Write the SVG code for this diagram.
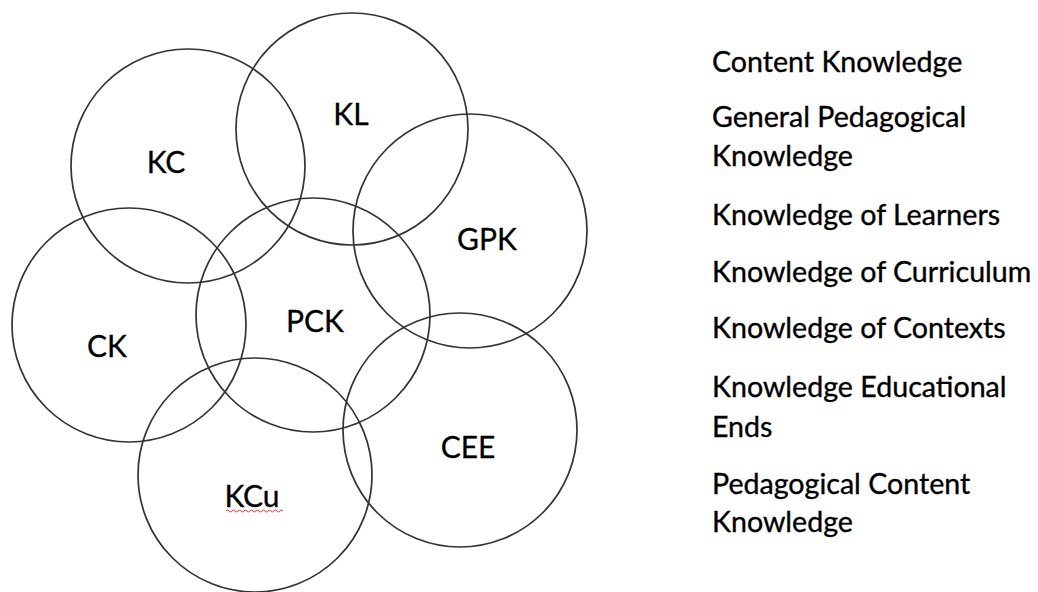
<svg xmlns="http://www.w3.org/2000/svg" width="1038" height="592" viewBox="0 0 1038 592">
  <style>
    .c { fill: none; stroke: #333; stroke-width: 1.7; }
    .lbl { font-family: Lato, "Open Sans", sans-serif; font-size: 30px; fill: #000; stroke: #000; stroke-width: 0.3; text-anchor: middle; }
    .leg { font-family: Lato, "Open Sans", sans-serif; font-size: 28.6px; fill: #000; stroke: #000; stroke-width: 0.35; }
  </style>
  <rect width="1038" height="592" fill="#fff"/>
  <g id="KC"><circle class="c" cx="188" cy="166" r="117"/><text class="lbl" x="166" y="173">KC</text></g>
  <g id="KL"><circle class="c" cx="352" cy="129" r="116"/><text class="lbl" x="351" y="125">KL</text></g>
  <g id="GPK"><circle class="c" cx="470" cy="231" r="117"/><text class="lbl" x="487" y="250">GPK</text></g>
  <g id="CK"><circle class="c" cx="129" cy="325" r="117"/><text class="lbl" x="107" y="357">CK</text></g>
  <g id="PCK"><circle class="c" cx="313" cy="315" r="117"/><text class="lbl" x="315" y="332">PCK</text></g>
  <g id="CEE"><circle class="c" cx="460" cy="430" r="117"/><text class="lbl" x="468" y="458">CEE</text></g>
  <g id="KCu"><circle class="c" cx="255" cy="475" r="117"/><text class="lbl" x="252" y="507">KCu</text>
    <path d="M226 511 q1.5 -2 3 0 t3 0 t3 0 t3 0 t3 0 t3 0 t3 0 t3 0 t3 0 t3 0 t3 0 t3 0 t3 0 t3 0 t3 0 t3 0 t3 0 t3 0 t3 0" fill="none" stroke="#e33" stroke-width="1"/>
  </g>
  <g id="connectors"></g>
  <g id="legend">
    <text class="leg" x="712" y="72">Content Knowledge</text>
    <text class="leg" x="712" y="127">General Pedagogical</text>
    <text class="leg" x="712" y="166">Knowledge</text>
    <text class="leg" x="712" y="225">Knowledge of Learners</text>
    <text class="leg" x="712" y="282">Knowledge of Curriculum</text>
    <text class="leg" x="712" y="338">Knowledge of Contexts</text>
    <text class="leg" x="712" y="397">Knowledge Educational</text>
    <text class="leg" x="712" y="437">Ends</text>
    <text class="leg" x="712" y="494">Pedagogical Content</text>
    <text class="leg" x="712" y="532">Knowledge</text>
  </g>
</svg>
